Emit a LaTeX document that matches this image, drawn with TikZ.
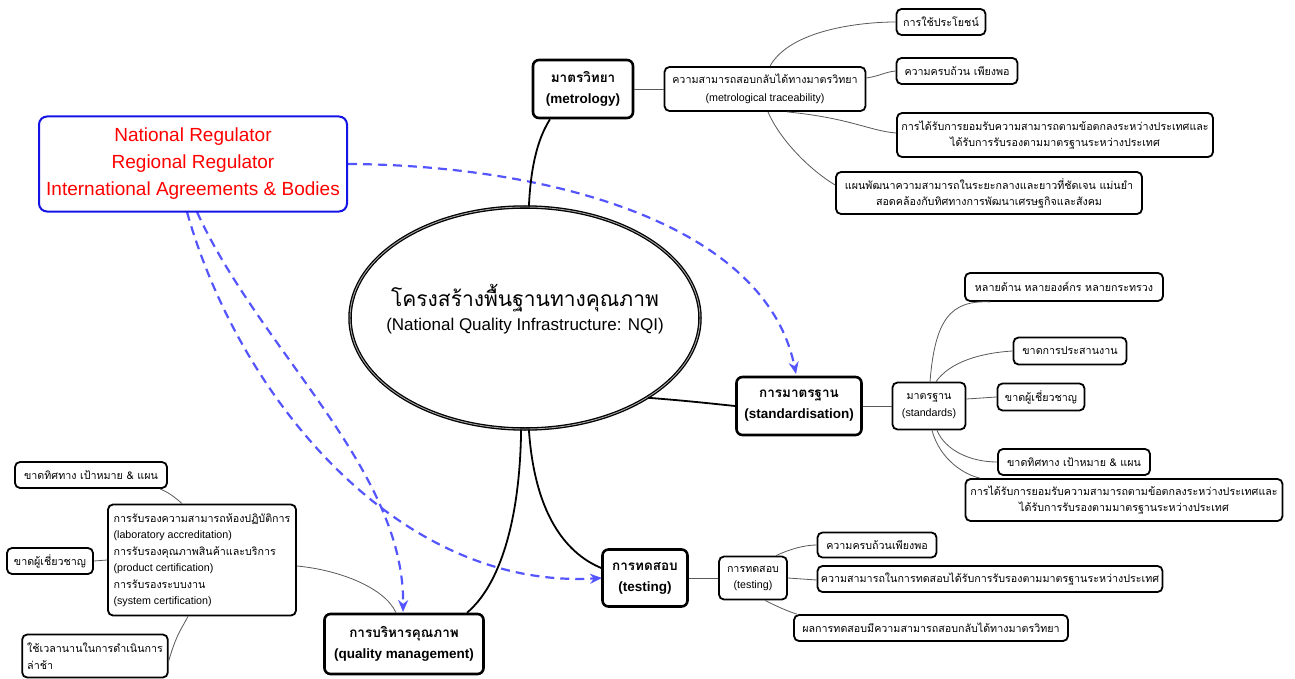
\documentclass[tikz,border=0pt]{standalone}
\usepackage{fontspec}
\setmainfont{Loma}[Script=Thai]
\newfontfamily\latin{Liberation Sans}
\usetikzlibrary{arrows.meta,shapes.geometric}
\definecolor{linkblue}{RGB}{85,85,255}
\definecolor{frameblue}{RGB}{20,20,230}
\newcommand{\en}[1]{{\latin #1}}
\begin{document}
\begin{tikzpicture}[x=1pt,y=-1pt,
  leaf/.style={draw, line width=1.8pt, rounded corners=5pt, fill=white, align=center,
    font=\fontsize{10.7}{16}\selectfont, inner sep=2pt},
  topic/.style={draw, line width=2.6pt, rounded corners=6pt, fill=white, align=center,
    font=\fontsize{13.5}{21}\selectfont\bfseries, inner sep=2pt},
  twig/.style={draw=black!65, line width=0.8pt},
  trunk/.style={draw=black, line width=1.8pt},
  link/.style={draw=linkblue, line width=2.2pt, dash pattern=on 9pt off 6pt,
    -{Stealth[length=12pt,width=10pt]}}
]
\useasboundingbox (0,0) rectangle (1295,679);
\fill[white] (0,0) rectangle (1295,679);

% regulatory links (drawn first, the central ellipse sits over them)
\draw[link] (348,164) .. controls (540,165) and (765,220) .. (796,374);
\draw[link] (197,212) .. controls (260,350) and (405,470) .. (403,612);
\draw[link] (187,212) .. controls (240,400) and (400,590) .. (602,578);

% central topic
\node[ellipse, draw=black, double=black!35, double distance=0.9pt, line width=1.3pt,
  fill=white, minimum width=350, minimum height=222, inner sep=0pt] (core) at (525,318) {};
\node[align=center, inner sep=0pt] (coretext) at (525,309)
  {{\fontsize{21}{28}\selectfont โครงสร้างพื้นฐานทางคุณภาพ}\\[5pt]
   {\fontsize{17}{22}\selectfont\latin (National Quality Infrastructure: NQI)}};

% regulators
\node[draw=frameblue, line width=2pt, rounded corners=8pt, fill=white, text=red,
  minimum width=308, minimum height=95, align=center,
  font=\fontsize{19}{27}\selectfont\latin] (reg) at (193,164)
  {National Regulator\\Regional Regulator\\International Agreements \& Bodies};

% metrology branch
\node[topic, minimum width=100, minimum height=58] (metro) at (583,89) {มาตรวิทยา\\\en{(metrology)}};
\node[leaf, minimum width=201, minimum height=44, font=\fontsize{10.7}{18}\selectfont] (trace) at (765,89)
  {ความสามารถสอบกลับได้ทางมาตรวิทยา\\\en{(metrological traceability)}};
\node[leaf, minimum width=89, minimum height=26] (m1) at (941,22) {การใช้ประโยชน์};
\node[leaf, minimum width=121, minimum height=26] (m2) at (957,71) {ความครบถ้วน เพียงพอ};
\node[leaf, minimum width=316, minimum height=44] (m3) at (1055,135)
  {การได้รับการยอมรับความสามารถตามข้อตกลงระหว่างประเทศและ\\ได้รับการรับรองตามมาตรฐานระหว่างประเทศ};
\node[leaf, minimum width=306, minimum height=42] (m4) at (989,193)
  {แผนพัฒนาความสามารถในระยะกลางและยาวที่ชัดเจน แม่นยำ\\สอดคล้องกับทิศทางการพัฒนาเศรษฐกิจและสังคม};

% standardisation branch
\node[topic, minimum width=125, minimum height=58] (stand) at (799,406) {การมาตรฐาน\\\en{(standardisation)}};
\node[leaf, minimum width=73, minimum height=47, font=\fontsize{10.7}{17}\selectfont] (stds) at (929,406) {มาตรฐาน\\\en{(standards)}};
\node[leaf, minimum width=198, minimum height=28] (s1) at (1064,287) {หลายด้าน หลายองค์กร หลายกระทรวง};
\node[leaf, minimum width=113, minimum height=27] (s2) at (1070,351) {ขาดการประสานงาน};
\node[leaf, minimum width=87, minimum height=27] (s3) at (1041,397) {ขาดผู้เชี่ยวชาญ};
\node[leaf, minimum width=152, minimum height=26] (s4) at (1074,462) {ขาดทิศทาง เป้าหมาย \& แผน};
\node[leaf, minimum width=317, minimum height=42] (s5) at (1124,500)
  {การได้รับการยอมรับความสามารถตามข้อตกลงระหว่างประเทศและ\\ได้รับการรับรองตามมาตรฐานระหว่างประเทศ};

% testing branch
\node[topic, minimum width=85, minimum height=57] (test) at (645,578) {การทดสอบ\\\en{(testing)}};
\node[leaf, minimum width=68, minimum height=43] (tsm) at (753,578) {การทดสอบ\\\en{(testing)}};
\node[leaf, minimum width=119, minimum height=25] (t1) at (877,545) {ความครบถ้วนเพียงพอ};
\node[leaf, minimum width=345, minimum height=26] (t2) at (990,579)
  {ความสามารถในการทดสอบได้รับการรับรองตามมาตรฐานระหว่างประเทศ};
\node[leaf, minimum width=274, minimum height=26] (t3) at (931,628)
  {ผลการทดสอบมีความสามารถสอบกลับได้ทางมาตรวิทยา};

% quality management branch
\node[topic, minimum width=159, minimum height=60] (qm) at (404,644) {การบริหารคุณภาพ\\\en{(quality management)}};
\node[leaf, minimum width=188, minimum height=111, align=left, inner sep=4pt,
  font=\fontsize{10.7}{16.5}\selectfont] (acc) at (202,560)
  {การรับรองความสามารถห้องปฏิบัติการ\\\en{(laboratory accreditation)}\\การรับรองคุณภาพสินค้าและบริการ\\\en{(product certification)}\\การรับรองระบบงาน\\\en{(system certification)}};
\node[leaf, minimum width=152, minimum height=26] (q1) at (91,475) {ขาดทิศทาง เป้าหมาย \& แผน};
\node[leaf, minimum width=86, minimum height=26] (q2) at (50,561) {ขาดผู้เชี่ยวชาญ};
\node[leaf, minimum width=145, minimum height=43, align=left, inner sep=5pt,
  font=\fontsize{10.7}{17}\selectfont] (q3) at (95,656)
  {ใช้เวลานานในการดำเนินการ\\ล่าช้า};

% trunks from the central topic
\draw[trunk] (core.88) .. controls (531,160) and (540,135) .. ([xshift=-33pt]metro.south);
\draw[trunk] (core.-33) .. controls (690,401) and (715,404) .. (stand.west);
\draw[trunk] (core.-88) .. controls (535,520) and (570,555) .. ([yshift=10pt]test.west);
\draw[trunk] (core.-92) .. controls (520,520) and (500,585) .. ([xshift=63pt]qm.north);

% metrology twigs
\draw[twig] (metro.east) -- (trace.west);
\draw[twig] ([xshift=5pt]trace.north) .. controls (790,30) and (860,22) .. (m1.west);
\draw[twig] ([yshift=11pt]trace.east) .. controls (880,76) and (885,72) .. (m2.west);
\draw[twig] ([xshift=22pt]trace.south) .. controls (850,118) and (870,131) .. ([yshift=2pt]m3.west);
\draw[twig] ([xshift=3pt]trace.south) .. controls (780,140) and (810,170) .. ([yshift=8pt]m4.west);

% standardisation twigs
\draw[twig] (stand.east) -- (stds.west);
\draw[twig] ([xshift=1pt]stds.north) .. controls (935,320) and (950,300) .. ([xshift=-74pt]s1.south);
\draw[twig] ([xshift=7pt]stds.north) .. controls (950,362) and (980,353) .. (s2.west);
\draw[twig] ([yshift=7pt]stds.east) -- (s3.west);
\draw[twig] ([xshift=8pt]stds.south) .. controls (945,450) and (970,462) .. (s4.west);
\draw[twig] ([xshift=3pt]stds.south) .. controls (940,460) and (965,475) .. ([xshift=-144pt]s5.north);

% testing twigs
\draw[twig] (test.east) -- (tsm.west);
\draw[twig] ([xshift=23pt]tsm.north) .. controls (790,549) and (805,545) .. (t1.west);
\draw[twig] (tsm.east) -- ([yshift=-1pt]t2.west);
\draw[twig] ([xshift=12pt]tsm.south) .. controls (780,608) and (790,612) .. ([xshift=-134pt]t3.north);

% quality management twigs
\draw[twig] ([yshift=-6pt]acc.east) .. controls (340,570) and (385,588) .. ([xshift=-8pt]qm.north);
\draw[twig] ([xshift=-20pt]acc.north) .. controls (176,498) and (168,492) .. ([xshift=69pt]q1.south);
\draw[twig] (acc.west) -- (q2.east);
\draw[twig] ([xshift=-14pt]acc.south) .. controls (182,628) and (176,635) .. ([yshift=-5pt]q3.east);
\end{tikzpicture}
\end{document}
